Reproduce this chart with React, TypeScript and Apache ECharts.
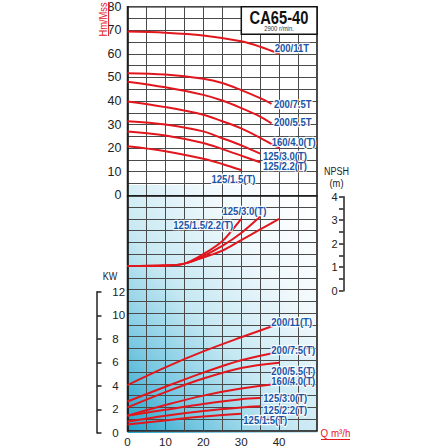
import React, { useEffect, useRef } from 'react';
import * as echarts from 'echarts';

// ---------- data ----------
const flowTicks = [0, 10, 20, 30, 40];
const headTicks = [0, 10, 20, 30, 40, 50, 60, 70, 80];
const powerTicks = [0, 2, 4, 6, 8, 10, 12];
const npshTicks = [0, 1, 2, 3, 4];

// head curves [Q m3/h, H m]
const head200_11 = [[0, 69.5], [10, 69], [20, 67.8], [30, 65.3], [35, 63], [40, 60]];
const head200_75 = [[0, 51.8], [10, 51.2], [20, 49.4], [25, 47.6], [30, 44.6], [35, 41.2], [38, 38.8]];
const head200_55 = [[0, 48.2], [10, 45.8], [20, 42.6], [25, 40.2], [30, 37], [35, 33.4], [38, 30.5]];
const head160_40 = [[0, 39.8], [10, 37.4], [20, 34.2], [25, 31.4], [30, 28.4], [35, 24.4], [40, 20]];
const head125_30 = [[0, 31.4], [10, 30], [20, 27.1], [25, 24.2], [30, 21.2], [35, 17.7]];
const head125_22 = [[0, 27.1], [10, 25.4], [20, 22.2], [25, 19.6], [30, 16.8], [35, 14]];
const head125_15 = [[0, 20.8], [10, 18.7], [20, 15.5], [25, 13.3], [30, 10.7]];

// NPSH curves [Q, m]
const npsh125_15_22 = [[0, 1.0], [10, 1.02], [15, 1.1], [20, 1.5], [25, 2.05], [27.5, 2.5], [30, 3.0]];
const npsh125_30 = [[0, 1.0], [10, 1.02], [15, 1.1], [20, 1.42], [25, 1.85], [30, 2.4], [35, 3.1]];
const npshLarge = [[0, 1.0], [10, 1.02], [15, 1.1], [20, 1.36], [25, 1.65], [30, 2.1], [35, 2.55], [40, 3.0]];

// power curves [Q, kW]
const kw200_11 = [[0, 3.9], [10, 5.4], [20, 6.75], [30, 7.95], [40, 9.1]];
const kw200_75 = [[0, 2.5], [10, 3.75], [20, 4.95], [30, 6.0], [40, 6.7]];
const kw200_55 = [[0, 2.0], [10, 3.3], [20, 4.45], [30, 5.35], [40, 5.8]];
const kw160_40 = [[0, 1.3], [10, 2.2], [20, 3.0], [30, 3.6], [40, 4.0]];
const kw125_30 = [[0, 1.3], [10, 1.8], [20, 2.3], [30, 2.7], [35, 2.8]];
const kw125_22 = [[0, 0.8], [10, 1.3], [20, 1.7], [30, 2.0], [35, 2.1]];
const kw125_15 = [[0, 0.55], [10, 0.9], [20, 1.22], [30, 1.47]];

const headNames = ['200/11T', '200/7.5T', '200/5.5T', '160/4.0(T)', '125/3.0(T)', '125/2.2(T)', '125/1.5(T)'];
const npshNames = ['125/1.5/2.2(T)', '125/3.0(T)'];
const powerNames = ['200/11(T)', '200/7.5(T)', '200/5.5(T)', '160/4.0(T)', '125/3.0(T)', '125/2.2(T)', '125/1.5(T)'];

const title = 'CA65-40';
const subtitle = '2900 r/min.';

// ---------- style ----------
const RED = '#e2161d';
const BLUE = '#1a55a5';
const INK = '#222';
const GRIDC = '#4a4a4a';
const FONT = "'Liberation Sans',Arial,sans-serif";

const PL = 127.5, PT = 6.7, PW = 189.5, PH = 426.3;

function line(data: number[][], yAxisIndex: number) {
  return {
    type: 'line',
    xAxisIndex: 0,
    yAxisIndex,
    data,
    smooth: 0.35,
    symbol: 'none',
    silent: true,
    lineStyle: { color: RED, width: 2 },
    z: 5,
  };
}

function label(text: string, x: number, y: number) {
  const base = { fontSize: 11.5, fontWeight: 'bold', fontFamily: FONT, align: 'left', verticalAlign: 'middle', text };
  return [
    { type: 'text', x, y, scaleX: 0.83, z: 58, silent: true, style: { ...base, fill: '#ffffff', stroke: '#ffffff', lineWidth: 2.4, opacity: 0.9 } },
    { type: 'text', x, y, scaleX: 0.83, z: 60, style: { ...base, fill: BLUE } },
  ];
}

function plain(text: string, x: number, y: number, color: string, size: number, sx: number, extra: any = {}) {
  return {
    type: 'text', x, y, z: 40, scaleX: sx, ...extra,
    style: { text, fill: color, fontSize: size, fontFamily: FONT, align: 'center', verticalAlign: 'middle' },
  };
}

export default function App() {
  const ref = useRef<HTMLDivElement>(null);
  useEffect(() => {
    if (!ref.current) return;
    const chart = echarts.init(ref.current, null, { renderer: 'svg' });
    const axisFont = { fontFamily: FONT, color: INK };
    const option: any = {
      animation: false,
      backgroundColor: '#ffffff',
      grid: [
        { left: PL, top: PT, width: PW, height: PH, show: true, borderColor: '#111', borderWidth: 1.5, backgroundColor: 'transparent' },
        { left: 97, top: 291.7, width: 6.3, height: 141.3 },
        { left: 343.5, top: 196.7, width: 10, height: 94 },
      ],
      xAxis: [
        {
          gridIndex: 0, type: 'value', min: 0, max: 50, interval: 5,
          axisLine: { show: true, lineStyle: { color: '#111', width: 1.5 } },
          axisTick: { show: false },
          splitLine: { show: true, lineStyle: { color: GRIDC, width: 1 } },
          axisLabel: { ...axisFont, fontSize: 11.5, margin: 5, formatter: (v: number) => (flowTicks.includes(v) ? String(v) : '') },
        },
        { gridIndex: 1, type: 'value', show: false, min: 0, max: 1 },
        { gridIndex: 2, type: 'value', show: false, min: 0, max: 1 },
      ],
      yAxis: [
        {
          gridIndex: 0, type: 'value', min: -100, max: 80, interval: 5, position: 'left',
          axisLine: { show: true, lineStyle: { color: '#111', width: 1.5 } },
          axisTick: { show: false },
          splitLine: { show: true, lineStyle: { color: GRIDC, width: 1 } },
          axisLabel: { ...axisFont, fontSize: 12.5, margin: 6, formatter: (v: number) => (headTicks.includes(v) ? String(v) : '') },
        },
        { gridIndex: 0, type: 'value', min: 0, max: 36, show: false },
        { gridIndex: 0, type: 'value', min: -6, max: 12, show: false },
        {
          gridIndex: 1, type: 'value', min: 0, max: 12, interval: 2, position: 'right',
          axisLine: { show: true, lineStyle: { color: INK, width: 1.5 } },
          axisTick: { show: true, length: 4.5, lineStyle: { color: INK, width: 1.5 } },
          splitLine: { show: false },
          axisLabel: { ...axisFont, fontSize: 11.5, margin: 9, formatter: (v: number) => (powerTicks.includes(v) ? String(v) : '') },
        },
        {
          gridIndex: 2, type: 'value', min: 0, max: 4, interval: 0.5, position: 'left',
          axisLine: { show: true, lineStyle: { color: INK, width: 1.5 } },
          axisTick: { show: true, length: 4.5, lineStyle: { color: INK, width: 1.5 } },
          splitLine: { show: false },
          axisLabel: { ...axisFont, fontSize: 11, margin: 6, formatter: (v: number) => (npshTicks.includes(v) ? String(v) : '') },
        },
      ],
      series: [
        line(head200_11, 0), line(head200_75, 0), line(head200_55, 0), line(head160_40, 0),
        line(head125_30, 0), line(head125_22, 0), line(head125_15, 0),
        line(npsh125_15_22, 2), line(npsh125_30, 2), line(npshLarge, 2),
        line(kw200_11, 1), line(kw200_75, 1), line(kw200_55, 1), line(kw160_40, 1),
        line(kw125_30, 1), line(kw125_22, 1), line(kw125_15, 1),
      ],
      graphic: [
        {
          type: 'rect', z: -10, silent: true,
          shape: { x: PL, y: 185, width: PW, height: PT + PH - 185 },
          style: {
            fill: new echarts.graphic.LinearGradient(0, 1, 0.9, 0, [
              { offset: 0, color: '#24a3cb' },
              { offset: 0.2, color: '#76c7e1' },
              { offset: 0.45, color: '#c6e8f3' },
              { offset: 0.75, color: '#f1f9fc' },
              { offset: 1, color: '#ffffff' },
            ]),
          },
        },
        {
          type: 'rect', z: 50,
          shape: { x: 241.3, y: PT, width: PL + PW - 241.3, height: 27.6 },
          style: { fill: '#fff', stroke: '#111', lineWidth: 1.5 },
        },
        {
          type: 'text', x: 279, y: 17.2, z: 51, scaleX: 0.84,
          style: { text: title, fill: '#111', fontSize: 17.5, fontWeight: 'bold', fontFamily: FONT, align: 'center', verticalAlign: 'middle' },
        },
        plain(subtitle, 279, 28.5, '#333', 7, 0.85, { z: 51 }),
        // head curve labels
        ...label(headNames[0], 274.7, 47.3),
        ...label(headNames[1], 274, 104),
        ...label(headNames[2], 274, 121.7),
        ...label(headNames[3], 271.7, 141.7),
        ...label(headNames[4], 263, 155.7),
        ...label(headNames[5], 263, 165.7),
        ...label(headNames[6], 211.5, 178.3),
        // npsh labels
        ...label(npshNames[1], 222.5, 210.7),
        ...label(npshNames[0], 173.3, 225),
        // power labels
        ...label(powerNames[0], 271.3, 321.3),
        ...label(powerNames[1], 271.3, 349.7),
        ...label(powerNames[2], 271.3, 370.7),
        ...label(powerNames[3], 271.3, 380.7),
        ...label(powerNames[4], 263.3, 398),
        ...label(powerNames[5], 263.3, 409.3),
        ...label(powerNames[6], 243.3, 420),
        // axis titles
        plain('Hm/Mss', 103.5, 19.5, RED, 11, 0.85, { rotation: Math.PI / 2 }),
        { type: 'line', z: 40, shape: { x1: 108.6, y1: 2, x2: 108.6, y2: 36 }, style: { stroke: RED, lineWidth: 1 } },
        plain('KW', 110, 276.5, INK, 11, 0.82),
        plain('NPSH', 336.5, 171, INK, 11, 0.82),
        plain('(m)', 336.5, 183.5, INK, 11, 0.85),
        plain('Q m³/h', 335.5, 433, RED, 11.5, 0.85),
        { type: 'line', z: 40, shape: { x1: 321, y1: 439.5, x2: 350, y2: 439.5 }, style: { stroke: RED, lineWidth: 1 } },
      ],
    };
    chart.setOption(option);
    return () => chart.dispose();
  }, []);
  return <div ref={ref} style={{ position: 'fixed', left: 0, top: 0, width: 448, height: 448 }} />;
}
